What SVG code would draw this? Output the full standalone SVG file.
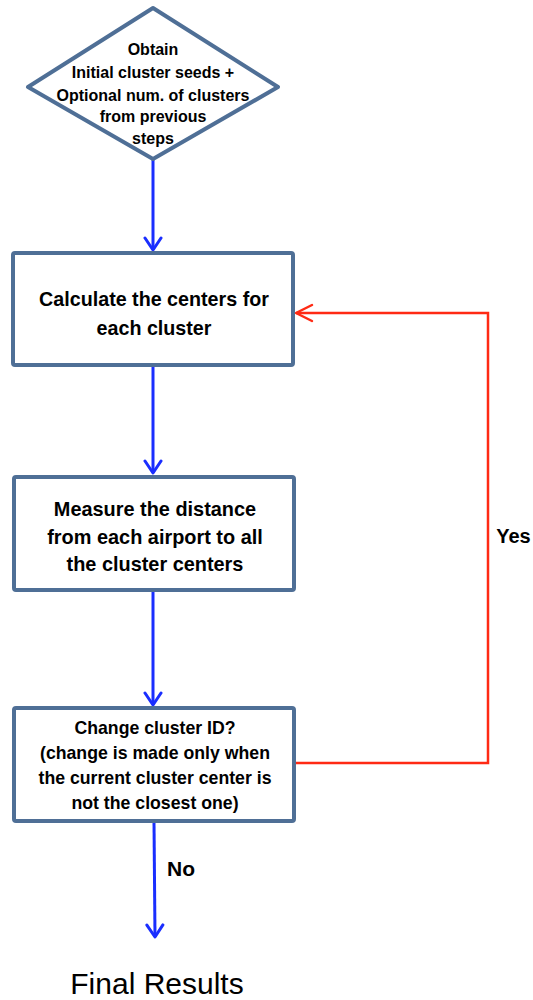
<svg xmlns="http://www.w3.org/2000/svg" width="533" height="1000" viewBox="0 0 533 1000">
<defs>
<style>
.node{fill:#fff;stroke:#4F6F96;stroke-width:4;stroke-linejoin:round}
.t{font-family:"Liberation Sans",Arial,sans-serif;font-weight:bold;fill:#000;text-anchor:middle}
.blue{stroke:#1A2EFF;stroke-width:3;fill:none}
.red{stroke:#FF2A14;stroke-width:2.5;fill:none}
</style>
<marker id="ab" viewBox="0 0 20 20" refX="17" refY="10" markerWidth="20" markerHeight="20" markerUnits="userSpaceOnUse" orient="auto">
<path d="M5,2 L17,10 L5,18" fill="none" stroke="#1A2EFF" stroke-width="3" stroke-linecap="round" stroke-linejoin="round"/>
</marker>
<marker id="ar" viewBox="0 0 20 20" refX="18" refY="10" markerWidth="20" markerHeight="20" markerUnits="userSpaceOnUse" orient="auto">
<path d="M2,2 L18,10 L2,18" fill="none" stroke="#FF2A14" stroke-width="2.5" stroke-linecap="round" stroke-linejoin="round"/>
</marker>
</defs>
<rect width="533" height="1000" fill="#fff"/>
<g id="connectors">
<line class="blue" x1="153" y1="160" x2="153" y2="250" marker-end="url(#ab)"/>
<line class="blue" x1="153" y1="367" x2="153" y2="473" marker-end="url(#ab)"/>
<line class="blue" x1="153" y1="591" x2="153" y2="705" marker-end="url(#ab)"/>
<line class="blue" x1="154" y1="822" x2="155" y2="937" marker-end="url(#ab)"/>
<polyline class="red" points="294,763 488,763 488,313 296,313" marker-end="url(#ar)"/>
<text class="t" x="181" y="876" font-size="21">No</text>
<text class="t" x="513.5" y="543" font-size="20">Yes</text>
</g>
<g id="start">
<polygon class="node" stroke-width="3" points="153,8 278,87 153,159 28,87"/>
<text class="t" font-size="16"><tspan x="153" y="55">Obtain</tspan><tspan x="153" y="78">Initial cluster seeds  +</tspan><tspan x="153" y="101">Optional num. of  clusters</tspan><tspan x="153" y="122">from previous</tspan><tspan x="153" y="144">steps</tspan></text>
</g>
<g id="calc">
<rect class="node" x="13" y="253" width="280" height="112" rx="2"/>
<text class="t" font-size="19.7"><tspan x="154" y="306">Calculate the centers for</tspan><tspan x="154" y="335">each cluster</tspan></text>
</g>
<g id="measure">
<rect class="node" x="14" y="477" width="280" height="113" rx="2"/>
<text class="t" font-size="19.9"><tspan x="155" y="516">Measure the distance</tspan><tspan x="155" y="544">from each airport to all</tspan><tspan x="155" y="571">the cluster centers</tspan></text>
</g>
<g id="change">
<rect class="node" x="14" y="708" width="280" height="113" rx="2"/>
<text class="t" font-size="17.7"><tspan x="155" y="734">Change cluster  ID?</tspan><tspan x="155" y="759">(change is made only when</tspan><tspan x="155" y="784">the current cluster center is</tspan><tspan x="155" y="809">not the closest  one)</tspan></text>
</g>
<g id="final">
<text x="157" y="994" font-family="'Liberation Sans',Arial,sans-serif" font-size="30" text-anchor="middle" fill="#000">Final Results</text>
</g>
</svg>
